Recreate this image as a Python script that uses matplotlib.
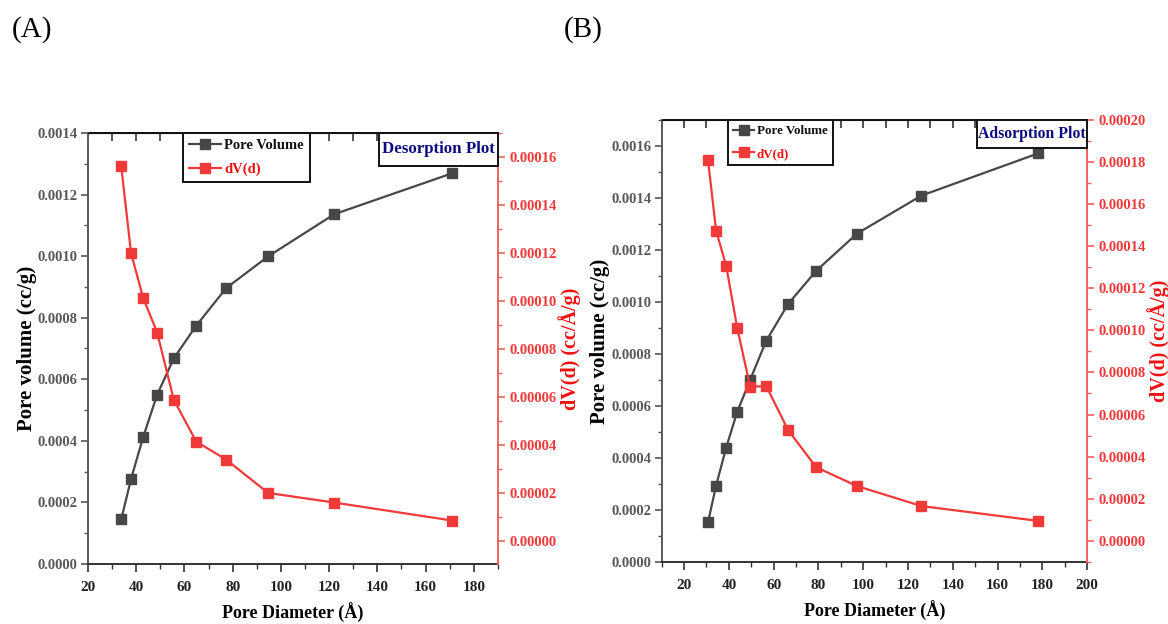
import matplotlib
matplotlib.use("Agg")
import matplotlib.pyplot as plt
from matplotlib.ticker import MultipleLocator, FormatStrFormatter, NullFormatter
from matplotlib.lines import Line2D
from matplotlib.patches import Rectangle

plt.rcParams['font.family'] = ['Liberation Serif', 'DejaVu Serif']
plt.rcParams['font.weight'] = 'bold'

# Desorption branch (A)
des_diameter = [33.8, 37.9, 42.9, 48.7, 55.6, 64.9, 77.3, 94.7, 122.1, 171.0]
des_pore_volume = [0.000145, 0.000277, 0.000412, 0.000550, 0.000668,
                   0.000774, 0.000896, 0.000999, 0.001136, 0.001269]
des_dv = [0.0001561, 0.0001198, 0.0001013, 0.0000868, 0.0000588,
          0.0000414, 0.0000339, 0.0000200, 0.0000160, 0.0000085]

# Adsorption branch (B)
ads_diameter = [30.7, 34.3, 38.8, 43.7, 49.5, 56.7, 66.5, 79.0, 97.2, 125.9, 178.2]
ads_pore_volume = [0.000153, 0.000294, 0.000440, 0.000577, 0.000701, 0.000851,
                   0.000993, 0.001120, 0.001263, 0.001409, 0.001572]
ads_dv = [0.0001808, 0.0001474, 0.0001307, 0.0001013, 0.0000732, 0.0000735,
          0.0000525, 0.0000349, 0.0000260, 0.0000165, 0.0000094]

BLACK = '#474747'
RED = '#f03a3a'
RED_AXIS = '#f26060'
GRAY_TXT = '#585858'
NAVY = '#0c0c80'

fig = plt.figure(figsize=(11.68, 6.24), dpi=100)


def panel(rect, x, pv, dv, xlim, xticks_major, ylim_l, ymaj_l, ylim_r, yticks_r,
          tag, tag_box, tag_fs, leg_x, fs_leg, leg_hl, leg_sp):
    ax = fig.add_axes(rect)
    ax2 = ax.twinx()

    ax.plot(x, pv, color=BLACK, lw=1.6, marker='s', ms=6.5, zorder=3)
    ax2.plot(x, dv, color=RED, lw=1.6, marker='s', ms=6.5, zorder=3)

    ax.set_xlim(*xlim)
    ax.set_ylim(*ylim_l)

    ax.set_xticks(xticks_major)
    ax.xaxis.set_minor_locator(MultipleLocator(10))
    ax.yaxis.set_major_locator(MultipleLocator(ymaj_l))
    ax.yaxis.set_minor_locator(MultipleLocator(ymaj_l / 2))
    ax.yaxis.set_major_formatter(FormatStrFormatter('%.4f'))
    ax2.set_yticks(yticks_r)
    ax2.yaxis.set_minor_locator(MultipleLocator(0.00001))
    ax2.yaxis.set_major_formatter(FormatStrFormatter('%.5f'))
    ax2.set_ylim(*ylim_r)

    ax.tick_params(axis='x', which='major', direction='out', length=6, width=1.2,
                   labelsize=11, labelcolor='#222222', color='#333333',
                   top=False, pad=6)
    ax.tick_params(axis='x', which='minor', direction='out', length=3.5, width=1.0,
                   color='#333333', top=False)
    ax.tick_params(axis='y', which='major', direction='out', length=5, width=1.2,
                   labelsize=10.5, labelcolor=GRAY_TXT, color='#555555', pad=2.5)
    ax.tick_params(axis='y', which='minor', direction='out', length=3, width=1.0,
                   color='#555555')
    ax2.tick_params(axis='y', which='major', direction='out', length=5, width=1.2,
                    labelsize=10.5, labelcolor=RED, color=RED_AXIS, pad=3)
    ax2.tick_params(axis='y', which='minor', direction='out', length=3, width=1.0,
                    color=RED_AXIS)

    # inward ticks along the top edge
    top = ax.secondary_xaxis('top')
    top.xaxis.set_major_locator(MultipleLocator(10))
    top.xaxis.set_major_formatter(NullFormatter())
    top.tick_params(axis='x', which='major', direction='in', length=6, width=1.1,
                    color='#222222')
    top.tick_params(axis='x', which='minor', length=0)
    top.spines['top'].set_color('#111111')
    top.spines['top'].set_linewidth(1.4)

    ax.spines['left'].set_color('#5a5a5a')
    ax.spines['left'].set_linewidth(1.4)
    ax.spines['bottom'].set_color('#333333')
    ax.spines['bottom'].set_linewidth(1.4)
    ax.spines['top'].set_color('#111111')
    ax.spines['right'].set_visible(False)
    ax2.spines['right'].set_color(RED_AXIS)
    ax2.spines['right'].set_linewidth(1.4)
    for s in ('left', 'bottom', 'top'):
        ax2.spines[s].set_visible(False)

    for lab in ax.get_xticklabels() + ax.get_yticklabels() + ax2.get_yticklabels():
        lab.set_fontweight('bold')

    ax.set_xlabel('Pore Diameter (Å)', fontsize=13, fontweight='bold', labelpad=7)
    ax.set_ylabel('Pore volume (cc/g)', fontsize=15, fontweight='bold', labelpad=0.5)
    ax2.set_ylabel('dV(d) (cc/Å/g)', fontsize=14.5, fontweight='bold', color='#ee1111',
                   labelpad=1)

    handles = [Line2D([], [], color=BLACK, lw=1.6, marker='s', ms=6.5),
               Line2D([], [], color=RED, lw=1.6, marker='s', ms=6.5)]
    leg = ax2.legend(handles, ['Pore Volume', 'dV(d)'], loc='upper left',
                     bbox_to_anchor=(leg_x, 1.0), frameon=True, fancybox=False,
                     edgecolor='#111111', framealpha=1, fontsize=fs_leg,
                     handlelength=leg_hl, handletextpad=0.2, borderpad=0.4,
                     labelspacing=leg_sp, borderaxespad=0)
    leg.get_frame().set_linewidth(1.4)
    texts = leg.get_texts()
    texts[0].set_color('#111111')
    texts[1].set_color('#ee1111')
    for t in texts:
        t.set_fontweight('bold')

    x0, y0 = tag_box
    ax2.add_patch(Rectangle((x0, y0), 1 - x0, 1 - y0, transform=ax2.transAxes,
                            fc='white', ec='#111111', lw=1.4, zorder=5,
                            clip_on=False))
    ax2.text((x0 + 1) / 2, (y0 + 1) / 2, tag, transform=ax2.transAxes,
             ha='center', va='center', fontsize=tag_fs, fontweight='bold',
             color=NAVY, zorder=6)
    return ax, ax2


panel([0.0753, 0.0962, 0.351, 0.6907], des_diameter, des_pore_volume, des_dv,
      (20, 190), [20, 40, 60, 80, 100, 120, 140, 160, 180],
      (0, 0.0014), 0.0002, (-0.0000096, 0.00017),
      [0.0, 0.00002, 0.00004, 0.00006, 0.00008, 0.00010, 0.00012, 0.00014, 0.00016],
      'Desorption Plot', (0.710, 0.9234), 12.2, 0.233, 10.5, 2.2, 0.75)

panel([0.5665, 0.0994, 0.3644, 0.7083], ads_diameter, ads_pore_volume, ads_dv,
      (10, 200), [20, 40, 60, 80, 100, 120, 140, 160, 180, 200],
      (0, 0.0017), 0.0002, (-0.0000101, 0.0002),
      [0.0, 0.00002, 0.00004, 0.00006, 0.00008, 0.00010, 0.00012, 0.00014,
       0.00016, 0.00018, 0.00020],
      'Adsorption Plot', (0.740, 0.936), 11.3, 0.156, 9.4, 1.6, 0.8)

fig.text(32 / 1168, 1 - 30 / 624, '(A)', fontsize=21, fontweight='normal',
         ha='center', va='center', color='black')
fig.text(583 / 1168, 1 - 30 / 624, '(B)', fontsize=21, fontweight='normal',
         ha='center', va='center', color='black')

fig.savefig('out.png', dpi=100)
